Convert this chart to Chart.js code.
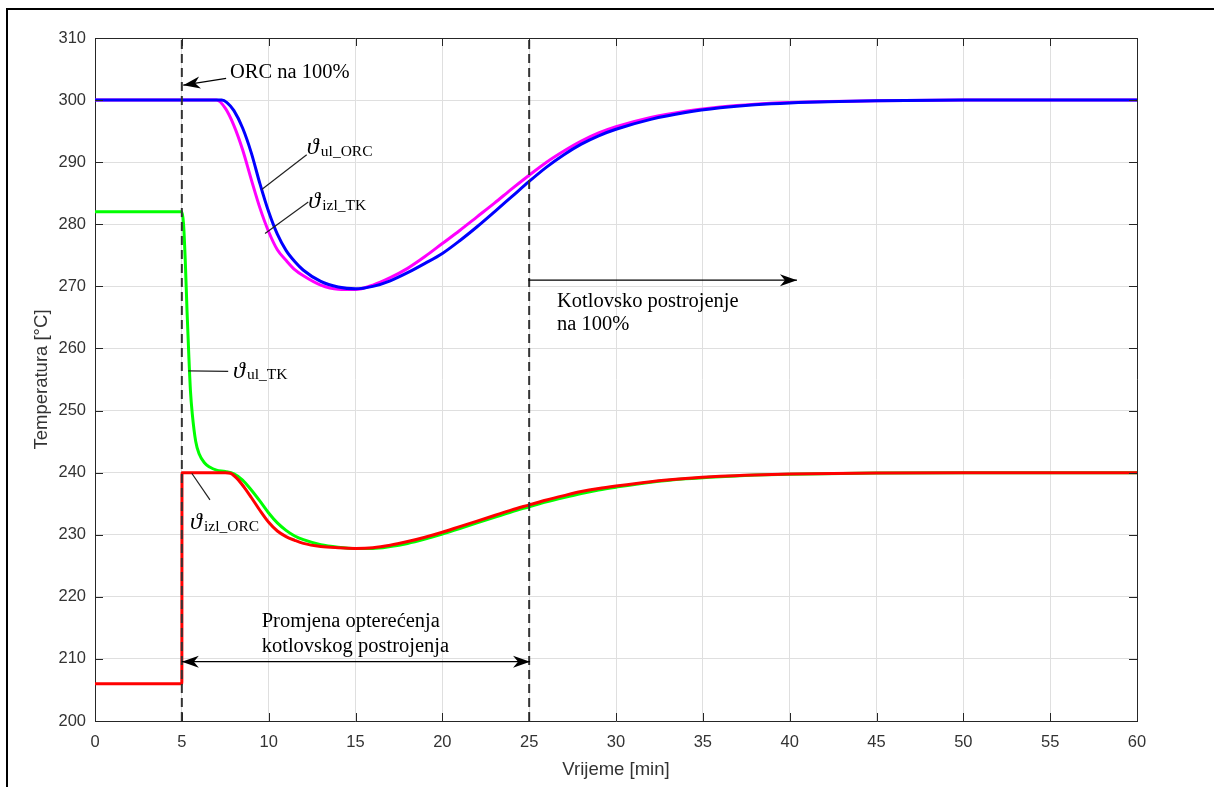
<!DOCTYPE html>
<html>
<head>
<meta charset="utf-8">
<title>Temperatura</title>
<script src="https://cdn.jsdelivr.net/npm/chart.js@4.4.0/dist/chart.umd.min.js"></script>
<style>
    html, body { margin: 0; padding: 0; background: #fff; }
    #wrap { position: relative; width: 1214px; height: 787px; }
</style>
</head>
<body>
<div id="wrap"><canvas id="tempChart" width="1214" height="787"></canvas></div>
<script>
// x ticks [min] and y ticks [°C]
const timeTicks = [0, 5, 10, 15, 20, 25, 30, 35, 40, 45, 50, 55, 60];
const tempTicks = [200, 210, 220, 230, 240, 250, 260, 270, 280, 290, 300, 310];

// vertical dashed markers (load change start / end)
const markerTimes = [5, 25];

// ϑul_ORC (blue)
const ulOrcTime = [0, 7.3, 7.6, 8, 8.5, 9, 9.5, 10, 10.5, 11, 11.5, 12, 13, 14, 15, 16, 17, 18, 19, 20, 21, 22, 23, 24, 25, 26, 27, 28, 29, 30, 32, 34, 36, 38, 40, 45, 50, 60];
const ulOrcTemp = [300, 300, 299.6, 298.3, 295.5, 291.5, 286.5, 282, 278.4, 275.8, 274.0, 272.6, 270.8, 269.9, 269.6, 270.0, 270.9, 272.2, 273.7, 275.3, 277.35, 279.6, 282.0, 284.45, 286.9, 289.2, 291.2, 292.9, 294.25, 295.3, 296.9, 298.0, 298.75, 299.25, 299.55, 299.9, 300, 300];

// ϑizl_TK (magenta)
const izlTkTime = [0, 7.0, 7.5, 8, 8.5, 9, 9.5, 10, 10.5, 11, 11.5, 12, 13, 14, 15, 16, 17, 18, 19, 20, 21, 22, 23, 24, 25, 26, 27, 28, 29, 30, 32, 34, 36, 38, 40, 45, 50, 60];
const izlTkTemp = [300, 300, 298.7, 295.9, 292.0, 287.2, 282.6, 278.8, 275.9, 274.2, 272.7, 271.7, 270.2, 269.55, 269.5, 270.2, 271.4, 272.9, 274.8, 276.9, 279.0, 281.2, 283.4, 285.7, 287.9, 290.0, 291.8, 293.4, 294.7, 295.7, 297.2, 298.2, 298.9, 299.35, 299.6, 299.9, 300, 300];

// ϑul_TK (green)
const ulTkTime = [0, 5, 5.1, 5.2, 5.3, 5.4, 5.5, 5.6, 5.8, 6.0, 6.3, 6.6, 7, 7.5, 8, 8.5, 9, 9.5, 10, 10.5, 11, 11.5, 12, 13, 14, 15, 16, 17, 18, 19, 20, 21, 22, 23, 24, 25, 26, 27, 28, 29, 30, 32, 34, 36, 38, 40, 45, 50, 60];
const ulTkTemp = [282, 282, 280, 274, 266, 259, 253, 249.5, 245, 243, 241.6, 240.9, 240.4, 240.2, 239.8, 238.8, 237.2, 235.4, 233.5, 231.9, 230.7, 229.8, 229.2, 228.4, 228.0, 227.8, 227.8, 228.1, 228.6, 229.3, 230.1, 231.0, 231.9, 232.8, 233.7, 234.5, 235.3, 236.0, 236.65, 237.2, 237.65, 238.45, 239.0, 239.35, 239.6, 239.75, 239.95, 240, 240];

// ϑizl_ORC (red)
const izlOrcTime = [0, 5, 5.01, 7.5, 7.8, 8.2, 8.6, 9, 9.5, 10, 10.5, 11, 11.5, 12, 13, 14, 15, 16, 17, 18, 19, 20, 21, 22, 23, 24, 25, 26, 27, 28, 29, 30, 32, 34, 36, 38, 40, 45, 50, 60];
const izlOrcTemp = [206, 206, 240, 240, 239.9, 239.0, 237.6, 236.0, 233.9, 232.0, 230.6, 229.7, 229.1, 228.6, 228.1, 227.9, 227.8, 227.9, 228.3, 228.9, 229.6, 230.4, 231.3, 232.2, 233.1, 234.0, 234.8, 235.6, 236.3, 236.95, 237.45, 237.85, 238.55, 239.05, 239.4, 239.62, 239.77, 239.95, 240, 240];

const toPoints = (ts, vs) => ts.map((t, i) => ({ x: t, y: vs[i] }));

const AXIS_COLOR = '#262626';
const SERIF = '"Liberation Serif", "Times New Roman", serif';

function lineSet(label, ts, vs, color, order) {
    return {
        label: label,
        data: toPoints(ts, vs),
        borderColor: color,
        backgroundColor: color,
        borderWidth: 3,
        pointRadius: 0,
        cubicInterpolationMode: 'monotone',
        order: order
    };
}

const markerSets = markerTimes.map(t => ({
    label: 't=' + t,
    data: [{ x: t, y: tempTicks[0] }, { x: t, y: tempTicks[tempTicks.length - 1] }],
    borderColor: '#333333',
    borderWidth: 2,
    borderDash: [9, 5],
    pointRadius: 0,
    tension: 0,
    order: 0
}));

// filled arrow head (notched), tip at (x2, y2)
function arrowHead(ctx, x1, y1, x2, y2) {
    const a = Math.atan2(y2 - y1, x2 - x1);
    ctx.save();
    ctx.translate(x2, y2);
    ctx.rotate(a);
    ctx.beginPath();
    ctx.moveTo(0, 0);
    ctx.lineTo(-17, -6);
    ctx.lineTo(-12, 0);
    ctx.lineTo(-17, 6);
    ctx.closePath();
    ctx.fill();
    ctx.restore();
}

function line(ctx, a, b) {
    ctx.beginPath();
    ctx.moveTo(a[0], a[1]);
    ctx.lineTo(b[0], b[1]);
    ctx.stroke();
}

// theta with subscript, left/baseline at p
function symbol(ctx, p, sub) {
    ctx.font = 'italic 24px ' + SERIF;
    ctx.textAlign = 'left';
    ctx.textBaseline = 'alphabetic';
    ctx.fillText('\u03D1', p[0], p[1]);
    ctx.font = '15.5px ' + SERIF;
    ctx.fillText(sub, p[0] + 14, p[1] + 1.5);
}

const annotations = {
    id: 'annotations',
    afterDraw(chart) {
        const ctx = chart.ctx;
        const xs = chart.scales.x, ys = chart.scales.y;
        const P = (t, T) => [xs.getPixelForValue(t), ys.getPixelForValue(T)];
        const area = chart.chartArea;

        ctx.save();
        // box top / right
        ctx.strokeStyle = AXIS_COLOR;
        ctx.lineWidth = 1;
        ctx.beginPath();
        ctx.moveTo(area.left, area.top + 0.5);
        ctx.lineTo(area.right + 0.5, area.top + 0.5);
        ctx.lineTo(area.right + 0.5, area.bottom);
        ctx.stroke();

        // inward tick marks
        ctx.beginPath();
        timeTicks.forEach(t => {
            const x = Math.round(xs.getPixelForValue(t)) + 0.5;
            ctx.moveTo(x, area.bottom); ctx.lineTo(x, area.bottom - 8);
            ctx.moveTo(x, area.top); ctx.lineTo(x, area.top + 8);
        });
        tempTicks.forEach(T => {
            const y = Math.round(ys.getPixelForValue(T)) + 0.5;
            ctx.moveTo(area.left, y); ctx.lineTo(area.left + 8, y);
            ctx.moveTo(area.right, y); ctx.lineTo(area.right - 8, y);
        });
        ctx.stroke();

        ctx.fillStyle = '#000';
        ctx.strokeStyle = '#000';
        ctx.lineWidth = 1.2;

        // ORC na 100%
        let a = P(7.55, 303.5), b = P(5.08, 302.4);
        line(ctx, a, b);
        arrowHead(ctx, a[0], a[1], b[0], b[1]);
        ctx.font = '20.5px ' + SERIF;
        ctx.textAlign = 'left';
        ctx.textBaseline = 'alphabetic';
        let p = P(7.77, 303.55);
        ctx.fillText('ORC na 100%', p[0], p[1]);

        // Kotlovsko postrojenje na 100%
        a = P(24.95, 271.0); b = P(40.42, 271.0);
        line(ctx, a, b);
        arrowHead(ctx, a[0], a[1], b[0], b[1]);
        ctx.textBaseline = 'middle';
        p = P(26.6, 267.5);
        ctx.fillText('Kotlovsko postrojenje', p[0], p[1]);
        p = P(26.6, 263.8);
        ctx.fillText('na 100%', p[0], p[1]);

        // Promjena opterecenja
        a = P(5.0, 209.55); b = P(25.05, 209.55);
        line(ctx, a, b);
        arrowHead(ctx, a[0], a[1], b[0], b[1]);
        arrowHead(ctx, b[0], b[1], a[0], a[1]);
        p = P(9.6, 216.0);
        ctx.fillText('Promjena opterećenja', p[0], p[1]);
        p = P(9.6, 212.0);
        ctx.fillText('kotlovskog postrojenja', p[0], p[1]);

        // curve labels with leader lines
        ctx.strokeStyle = '#222';
        ctx.lineWidth = 1.2;
        line(ctx, P(12.19, 291.2), P(9.6, 285.6));
        symbol(ctx, P(12.2, 291.3), 'ul_ORC');

        line(ctx, P(12.28, 283.6), P(9.79, 278.5));
        symbol(ctx, P(12.28, 282.6), 'izl_TK');

        line(ctx, P(5.37, 256.4), P(7.67, 256.3));
        symbol(ctx, P(7.94, 255.3), 'ul_TK');

        line(ctx, P(5.57, 239.9), P(6.62, 235.6));
        symbol(ctx, P(5.47, 230.9), 'izl_ORC');

        // outer figure frame
        ctx.strokeStyle = '#000';
        ctx.lineWidth = 2;
        ctx.beginPath();
        ctx.moveTo(7, chart.height);
        ctx.lineTo(7, 9);
        ctx.lineTo(chart.width, 9);
        ctx.stroke();
        ctx.restore();
    }
};

const ctx = document.getElementById('tempChart').getContext('2d');
new Chart(ctx, {
    type: 'line',
    data: {
        datasets: [
            ...markerSets,
            lineSet('ϑizl_ORC', izlOrcTime, izlOrcTemp, '#ff0000', 1),
            lineSet('ϑul_TK', ulTkTime, ulTkTemp, '#00ff00', 2),
            lineSet('ϑul_ORC', ulOrcTime, ulOrcTemp, '#0000ff', 3),
            lineSet('ϑizl_TK', izlTkTime, izlTkTemp, '#ff00ff', 4)
        ]
    },
    options: {
        responsive: false,
        animation: false,
        layout: { padding: { top: 38, right: 77, left: 0, bottom: 0 } },
        plugins: {
            legend: { display: false },
            tooltip: { enabled: false }
        },
        scales: {
            x: {
                type: 'linear',
                min: 0,
                max: 60,
                afterFit(scale) { scale.height = 66; },
                afterBuildTicks(scale) { scale.ticks = timeTicks.map(v => ({ value: v })); },
                ticks: {
                    padding: 12,
                    color: '#333333',
                    font: { family: '"Liberation Sans", Arial, sans-serif', size: 16.5 }
                },
                grid: { color: '#dfdfdf', drawTicks: false },
                border: { display: true, color: AXIS_COLOR, width: 1 },
                title: {
                    display: true,
                    text: 'Vrijeme [min]',
                    color: '#333333',
                    font: { family: '"Liberation Sans", Arial, sans-serif', size: 18.5 },
                    padding: { top: 0, bottom: 6 }
                }
            },
            y: {
                min: 200,
                max: 310,
                afterFit(scale) { scale.width = 95; },
                afterBuildTicks(scale) { scale.ticks = tempTicks.map(v => ({ value: v })); },
                ticks: {
                    padding: 9,
                    color: '#333333',
                    font: { family: '"Liberation Sans", Arial, sans-serif', size: 16.5 }
                },
                grid: { color: '#dfdfdf', drawTicks: false },
                border: { display: true, color: AXIS_COLOR, width: 1 },
                title: {
                    display: true,
                    text: 'Temperatura [°C]',
                    color: '#333333',
                    font: { family: '"Liberation Sans", Arial, sans-serif', size: 18.5 },
                    padding: { top: 31, bottom: 0 }
                }
            }
        }
    },
    plugins: [annotations]
});
</script>
</body>
</html>
